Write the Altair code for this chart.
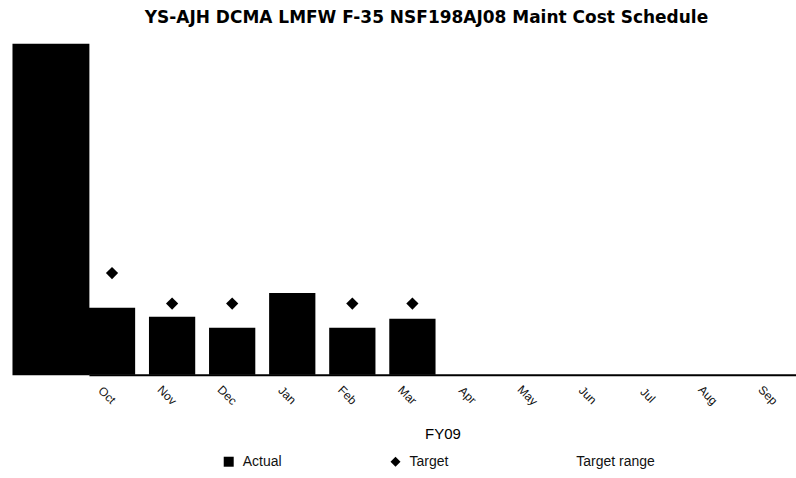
import altair as alt
import pandas as pd

# Monthly maintenance cost for FY09 (Apr-Sep not yet reported)
months = ["Oct", "Nov", "Dec", "Jan", "Feb", "Mar",
          "Apr", "May", "Jun", "Jul", "Aug", "Sep"]
actual = [20.2, 17.5, 14.2, 24.7, 14.2, 16.9, 0, 0, 0, 0, 0, 0]
target_months = ["Oct", "Nov", "Dec", "Jan", "Feb", "Mar"]
target = [30.7, 21.5, 21.5, 21.5, 21.5, 21.5]

series_names = ["Actual", "Target", "Target range"]

bars_df = pd.DataFrame({"month": months, "value": actual, "series": "Actual"})
pts_df = pd.DataFrame({"month": target_months, "value": target, "series": "Target"})

x_enc = alt.X(
    "month:N",
    sort=months,
    scale=alt.Scale(domain=months, paddingInner=0.23, paddingOuter=0),
    axis=alt.Axis(
        title="FY09",
        labelAngle=45,
        labelAlign="center",
        labelBaseline="middle",
        labelPadding=20,
        labelOffset=-5,
        labelFont="Liberation Sans",
        labelFontSize=12,
        labelColor="#111111",
        ticks=False,
        grid=False,
        domainColor="black",
        domainWidth=2,
        titleFont="Liberation Sans",
        titleFontSize=15,
        titleFontWeight="normal",
        titleColor="black",
        titlePadding=19,
    ),
)

y_scale = alt.Scale(domain=[0, 100], nice=False)
# y labels are blanked out with a solid block along the left edge
y_axis = alt.Axis(
    title=None, labels=False, ticks=False, grid=False,
    domainColor="black", domainWidth=77, offset=38.5,
)

color_scale = alt.Scale(domain=series_names, range=["black", "black", "white"])
shape_scale = alt.Scale(domain=series_names, range=["square", "diamond", "square"])

legend = alt.Legend(
    title=None,
    orient="none",
    direction="horizontal",
    legendX=133,
    legendY=412,
    columnPadding=107,
    symbolSize=100,
    labelOffset=7,
    labelFont="Liberation Sans",
    labelFontSize=14,
    labelColor="#111111",
    symbolStrokeWidth=0,
    values=series_names,
)

bars = alt.Chart(bars_df).mark_bar().encode(
    x=x_enc,
    y=alt.Y("value:Q", scale=y_scale, axis=y_axis),
    color=alt.Color("series:N", scale=color_scale, legend=legend),
)

points = alt.Chart(pts_df).mark_point(filled=True, size=150, opacity=1).encode(
    x=alt.X("month:N", sort=months),
    y=alt.Y("value:Q", axis=y_axis),
    color=alt.Color("series:N", scale=color_scale, legend=legend),
    shape=alt.Shape("series:N", scale=shape_scale, legend=legend),
)

chart = (
    alt.layer(bars, points)
    .properties(
        width=708,
        height=332,
        background="white",
        autosize=alt.AutoSizeParams(type="none"),
        padding={"left": 89, "top": 43, "right": 0, "bottom": 103},
        title=alt.TitleParams(
            "YS-AJH DCMA LMFW F-35 NSF198AJ08 Maint Cost Schedule",
            font="DejaVu Sans",
            fontSize=17,
            fontWeight="bold",
            color="black",
            offset=16,
            dx=-16,
        ),
    )
    .configure_view(stroke=None, strokeWidth=0)
)

chart.save("out.html", embed_options={"renderer": "svg", "actions": False})
